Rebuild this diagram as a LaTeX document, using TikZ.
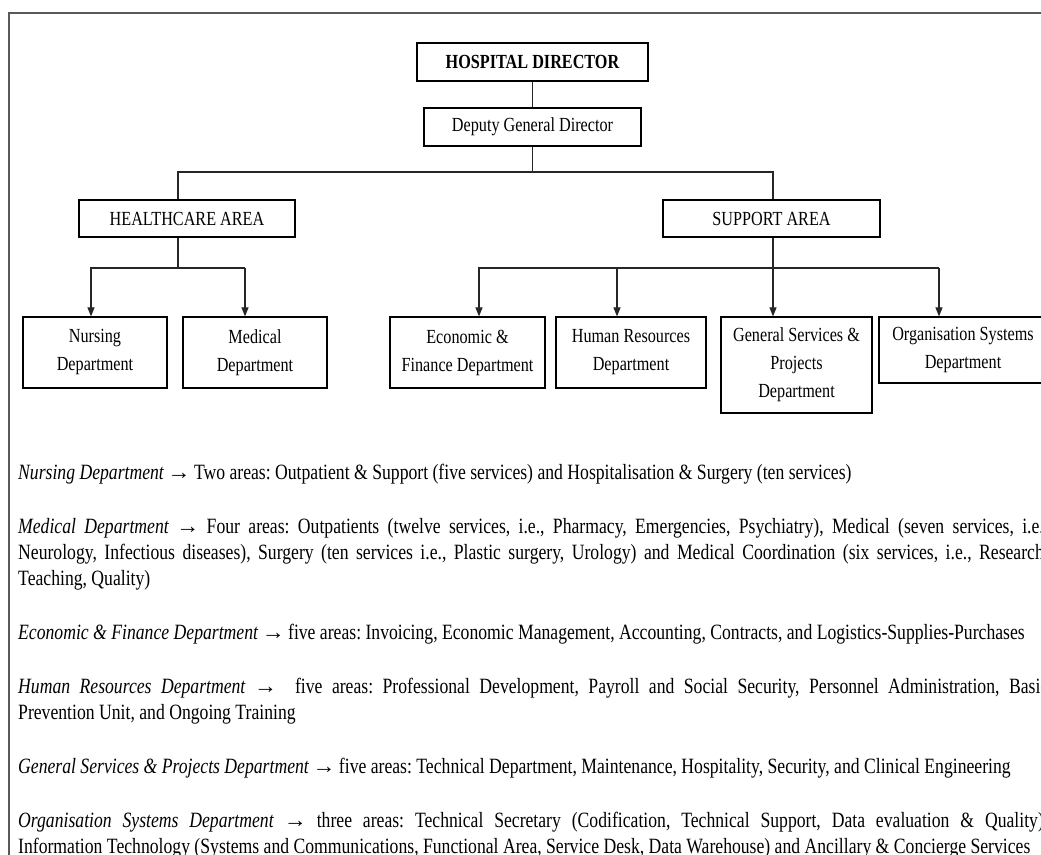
\documentclass[tikz,border=0pt]{standalone}
\usepackage{fontspec}
\usepackage{graphicx}
\setmainfont{Liberation Serif}[FakeStretch=0.81]
\usetikzlibrary{arrows.meta}

\tikzset{
  orgbox/.style={draw=black, line width=1.2pt, rectangle, inner sep=0pt,
    align=center, font=\fontsize{20}{28}\selectfont},
  link/.style={draw=black!85, line width=1.1pt},
  arr/.style={link, -{Triangle[length=9pt,width=7pt]}},
  frameline/.style={draw=black!65, line width=2pt},
  para/.style={anchor=base west, inner sep=0pt, font=\fontsize{21.8}{26}\selectfont},
}
\newcommand{\jline}[1]{\makebox[1030pt][s]{#1}}
\newcommand{\ra}{\hspace{-1pt}\scalebox{1.3}[1]{→}\hspace{-1pt}}

\begin{document}
\frenchspacing
\begin{tikzpicture}[x=1pt,y=-1pt]
\useasboundingbox (0,0) rectangle (1041,854);
\clip (0,0) rectangle (1041,854);
\fill[white] (0,0) rectangle (1041,854);

% page frame
\draw[frameline] (9,870) -- (9,13) -- (1060,13);

% chart boxes
\node[orgbox, minimum width=231pt, minimum height=38pt] (hd)  at (532.5,62)   {\bfseries HOSPITAL DIRECTOR};
\node[orgbox, minimum width=217pt, minimum height=38pt] (dep) at (532.5,127)  {Deputy General Director};
\node[orgbox, minimum width=216pt, minimum height=37pt] (hc)  at (187,218.5)  {HEALTHCARE AREA};
\node[orgbox, minimum width=217pt, minimum height=37pt] (sa)  at (771.5,218.5){SUPPORT AREA};

\node[orgbox, minimum width=144pt, minimum height=71pt] (nur) at (95,352.5)   {Nursing\\Department};
\node[orgbox, minimum width=144pt, minimum height=71pt] (med) at (255,352.5)  {Medical\\Department};
\node[orgbox, minimum width=155pt, minimum height=71pt] (eco) at (467.5,352.5){Economic \&\\Finance Department};
\node[orgbox, minimum width=150pt, minimum height=71pt] (hr)  at (631,352.5)  {Human Resources\\Department};
\node[orgbox, minimum width=151pt, minimum height=96pt] (gs)  at (796.5,365)  {General Services \&\\Projects\\Department};
\node[orgbox, minimum width=168pt, minimum height=66pt] (org) at (963,350)    {Organisation Systems\\Department};

% bus coordinates
\coordinate (busL) at (178,172);
\coordinate (busR) at (773,172);
\coordinate (nurX) at (91,268);
\coordinate (medX) at (245,268);
\coordinate (ecoX) at (479,268);
\coordinate (hrX)  at (617,268);
\coordinate (gsX)  at (773,268);
\coordinate (orgX) at (939,268);

% connectors
\draw[link] (hd.south) -- (dep.north);
\draw[link] (dep.south) -- (dep.south |- busL);
\draw[link] (hc.north -| busL) -- (busL) -- (busR) -- (sa.north -| busR);

\draw[link] (hc.south -| busL) -- (busL |- nurX);
\draw[arr] (medX) -- (nurX) -- (nurX |- nur.north);
\draw[arr] (medX) -- (medX |- med.north);

\draw[link] (sa.south -| busR) -- (gsX);
\draw[arr] (orgX) -- (ecoX) -- (ecoX |- eco.north);
\draw[arr] (hrX) -- (hrX |- hr.north);
\draw[arr] (gsX) -- (gsX |- gs.north);
\draw[arr] (orgX) -- (orgX |- org.north);

% department descriptions
\node[para] (t1)  at (18,479) {\textit{Nursing Department} \ra{} Two areas: Outpatient \& Support (five services) and Hospitalisation \& Surgery (ten services)};
\node[para] (t2)  at (18,533) {\jline{\textit{Medical Department} \ra{} Four areas: Outpatients (twelve services, i.e., Pharmacy, Emergencies, Psychiatry), Medical (seven services, i.e.,}};
\node[para] (t3)  at (18,559) {\jline{Neurology, Infectious diseases), Surgery (ten services i.e., Plastic surgery, Urology) and Medical Coordination (six services, i.e., Research,}};
\node[para] (t4)  at (18,585) {Teaching, Quality)};
\node[para] (t5)  at (18,639) {\textit{Economic \& Finance Department} \ra{} five areas: Invoicing, Economic Management, Accounting, Contracts, and Logistics-Supplies-Purchases};
\node[para] (t6)  at (18,693) {\jline{\textit{Human Resources Department} \ra\ \ five areas: Professional Development, Payroll and Social Security, Personnel Administration, Basic}};
\node[para] (t7)  at (18,719) {Prevention Unit, and Ongoing Training};
\node[para] (t8)  at (18,773) {\textit{General Services \& Projects Department} \ra{} five areas: Technical Department, Maintenance, Hospitality, Security, and Clinical Engineering};
\node[para] (t9)  at (18,827) {\jline{\textit{Organisation Systems Department} \ra{} three areas: Technical Secretary (Codification, Technical Support, Data evaluation \& Quality),}};
\node[para] (t10) at (18,853) {Information Technology (Systems and Communications, Functional Area, Service Desk, Data Warehouse) and Ancillary \& Concierge Services};
\end{tikzpicture}
\end{document}
